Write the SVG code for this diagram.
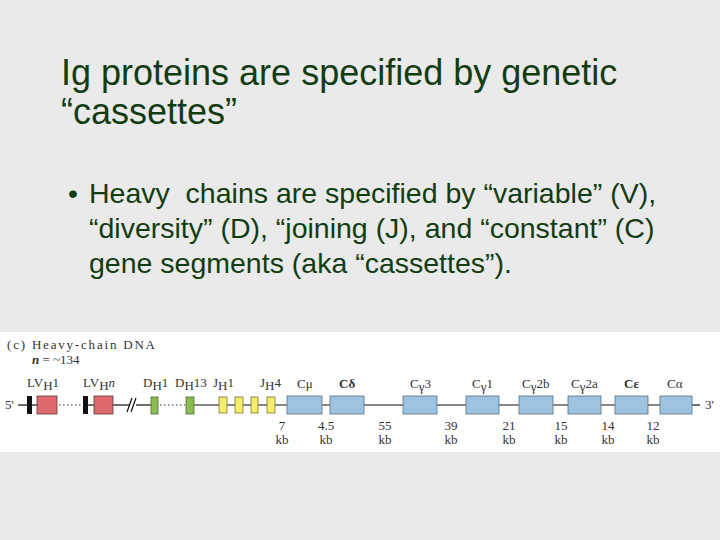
<svg xmlns="http://www.w3.org/2000/svg" width="720" height="540" viewBox="0 0 720 540">
<style>
.title{font-family:"Liberation Sans",Arial,sans-serif;font-size:36px;fill:#123c12}
.body{font-family:"Liberation Sans",Arial,sans-serif;font-size:28.5px;fill:#123c12}
.lab{font-family:"Liberation Serif","Times New Roman",serif;font-size:13px;fill:#333}
.kb{font-family:"Liberation Serif","Times New Roman",serif;font-size:13px;fill:#333;text-anchor:middle}
.bar{fill:#111}
.v{fill:#e0696f;stroke:#5a3a3a;stroke-width:0.8}
.d{fill:#8cbb52;stroke:#4e6b32;stroke-width:0.8}
.j{fill:#f4ee6c;stroke:#7a7430;stroke-width:0.8}
.c{fill:#9dc3e1;stroke:#5b6f80;stroke-width:0.8}
.ln{stroke:#111;stroke-width:1.2;fill:none}
.dot{stroke:#333;stroke-width:1;stroke-dasharray:1.5 2.5;fill:none}
</style>
<rect width="720" height="540" fill="#eaeaea"/>
<g id="title">
<text class="title" x="61" y="85">Ig proteins are specified by genetic</text>
<text class="title" x="61" y="124">“cassettes”</text>
</g>
<g id="bullets">
<text class="body" x="68" y="203">•</text>
<text class="body" x="89" y="203" xml:space="preserve">Heavy  chains are specified by “variable” (V),</text>
<text class="body" x="89" y="238">“diversity” (D), “joining (J), and “constant”  (C)</text>
<text class="body" x="89" y="273">gene segments (aka “cassettes”).</text>
</g>
<g id="figure">
<rect x="0" y="332" width="720" height="120" fill="#ffffff"/>
<text class="lab" x="7" y="349" font-size="13.5" textLength="148" fill="#222">(c) Heavy-chain DNA</text>
<text class="lab" x="32" y="364" font-size="13.5" fill="#222"><tspan font-style="italic" font-weight="bold">n</tspan> = ~134</text>
<g id="connectors">
<line class="ln" x1="18" y1="405" x2="27" y2="405"/>
<line class="ln" x1="32" y1="405" x2="37" y2="405"/>
<line class="dot" x1="59" y1="405" x2="82" y2="405"/>
<line class="ln" x1="88" y1="405" x2="94" y2="405"/>
<line class="ln" x1="113" y1="405" x2="129" y2="405"/>
<line class="ln" x1="136" y1="405" x2="151" y2="405"/>
<path class="ln" d="M127 412 L132 398 M131 412 L136 398"/>
<line class="dot" x1="160" y1="405" x2="185" y2="405"/>
<line class="ln" x1="194" y1="405" x2="660" y2="405"/>
<line class="ln" x1="692" y1="405" x2="700" y2="405"/>
</g>
<g id="labels">
<text class="lab" x="5" y="409">5'</text>
<text class="lab" x="705" y="409">3'</text>
<text class="lab" x="27" y="387">LV<tspan dy="3">H</tspan><tspan dy="-3">1</tspan></text>
<text class="lab" x="83" y="387">LV<tspan dy="3">H</tspan><tspan dy="-3" font-style="italic">n</tspan></text>
<text class="lab" x="143" y="387">D<tspan dy="3">H</tspan><tspan dy="-3">1</tspan></text>
<text class="lab" x="175" y="387">D<tspan dy="3">H</tspan><tspan dy="-3">13</tspan></text>
<text class="lab" x="213" y="387">J<tspan dy="3">H</tspan><tspan dy="-3">1</tspan></text>
<text class="lab" x="260" y="387">J<tspan dy="3">H</tspan><tspan dy="-3">4</tspan></text>
<text class="lab" x="297" y="388">Cμ</text>
<text class="lab" x="339" y="388" font-weight="bold">Cδ</text>
<text class="lab" x="410" y="388">C<tspan dy="3">γ</tspan><tspan dy="-3">3</tspan></text>
<text class="lab" x="472" y="388">C<tspan dy="3">γ</tspan><tspan dy="-3">1</tspan></text>
<text class="lab" x="522" y="388">C<tspan dy="3">γ</tspan><tspan dy="-3">2b</tspan></text>
<text class="lab" x="571" y="388">C<tspan dy="3">γ</tspan><tspan dy="-3">2a</tspan></text>
<text class="lab" x="624" y="388" font-weight="bold">Cε</text>
<text class="lab" x="667" y="388">Cα</text>
</g>
<g id="LVH1"><rect class="bar" x="27" y="396" width="5" height="18"/><rect class="v" x="37" y="396" width="20" height="18"/></g>
<g id="LVHn"><rect class="bar" x="83" y="396" width="5" height="18"/><rect class="v" x="94" y="396" width="19" height="18"/></g>
<g id="DH1"><rect class="d" x="151" y="397" width="7" height="17"/></g>
<g id="DH13"><rect class="d" x="186" y="397" width="8" height="17"/></g>
<g id="JH"><rect class="j" x="219" y="397" width="8" height="16"/><rect class="j" x="235" y="397" width="8" height="16"/><rect class="j" x="251" y="397" width="7" height="16"/><rect class="j" x="267" y="397" width="8" height="16"/></g>
<g id="Cmu"><rect class="c" x="287" y="396" width="35" height="18"/></g>
<g id="Cdelta"><rect class="c" x="330" y="396" width="34" height="18"/></g>
<g id="Cg3"><rect class="c" x="403" y="396" width="34" height="18"/></g>
<g id="Cg1"><rect class="c" x="466" y="396" width="33" height="18"/></g>
<g id="Cg2b"><rect class="c" x="519" y="396" width="34" height="18"/></g>
<g id="Cg2a"><rect class="c" x="568" y="396" width="33" height="18"/></g>
<g id="Ceps"><rect class="c" x="615" y="396" width="33" height="18"/></g>
<g id="Calpha"><rect class="c" x="660" y="396" width="32" height="18"/></g>
<g id="distances">
<text class="kb" x="282" y="430">7</text><text class="kb" x="282" y="444">kb</text>
<text class="kb" x="326" y="430">4.5</text><text class="kb" x="326" y="444">kb</text>
<text class="kb" x="385" y="430">55</text><text class="kb" x="385" y="444">kb</text>
<text class="kb" x="451" y="430">39</text><text class="kb" x="451" y="444">kb</text>
<text class="kb" x="509" y="430">21</text><text class="kb" x="509" y="444">kb</text>
<text class="kb" x="561" y="430">15</text><text class="kb" x="561" y="444">kb</text>
<text class="kb" x="608" y="430">14</text><text class="kb" x="608" y="444">kb</text>
<text class="kb" x="653" y="430">12</text><text class="kb" x="653" y="444">kb</text>
</g>
</g>
</svg>
